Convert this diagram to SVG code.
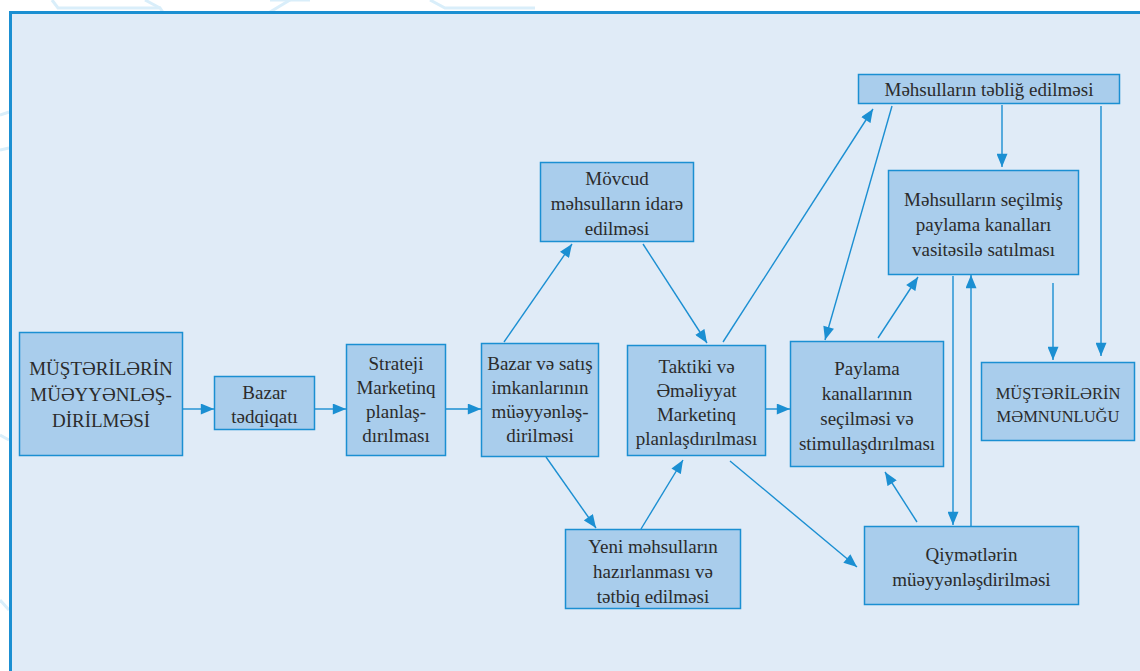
<svg xmlns="http://www.w3.org/2000/svg" width="1140" height="671" viewBox="0 0 1140 671">
  <defs>
    <style>
      .box { fill: #a9cdec; stroke: #1b8fd2; stroke-width: 1.5; }
      .conn line { stroke: #1b8fd2; stroke-width: 1.4; fill: none; }
      .deco { fill: none; stroke: #d9eefa; stroke-width: 3; }
    </style>
    <marker id="arr" viewBox="0 0 12 10" refX="12" refY="5" markerWidth="14" markerHeight="11" markerUnits="userSpaceOnUse" orient="auto">
      <path d="M0,0 L12,5 L0,10 Z" fill="#1b8fd2"/>
    </marker>
  </defs>

  <!-- page background with faint hexagon ornament -->
  <rect x="0" y="0" width="1140" height="671" fill="#ffffff"/>
  <g class="deco">
    <polyline points="52,0 58,8 160,8 175,30"/>
    <polyline points="145,0 160,8"/>
    <polyline points="270,0 310,0"/>
    <polyline points="0,115 9,112"/>
    <polyline points="0,150 9,148"/>
    <polyline points="0,435 9,440"/>
    <polyline points="0,600 9,610"/>
    <polyline points="430,0 445,8 535,8"/>
    <polyline points="270,12 290,0"/>
  </g>

  <!-- framed panel -->
  <rect x="10.5" y="12.5" width="1140" height="670" fill="#e0ebf7" stroke="#1b8fd2" stroke-width="3"/>

  <!-- connectors -->
  <g id="connectors" class="conn">
    <line x1="183" y1="409" x2="214" y2="409" marker-end="url(#arr)"/>
    <line x1="315" y1="409" x2="346" y2="409" marker-end="url(#arr)"/>
    <line x1="446" y1="409" x2="481" y2="409" marker-end="url(#arr)"/>
    <line x1="766" y1="409" x2="790" y2="409" marker-end="url(#arr)"/>
    <line x1="504" y1="342" x2="572" y2="244" marker-end="url(#arr)"/>
    <line x1="643" y1="244" x2="707" y2="343" marker-end="url(#arr)"/>
    <line x1="723" y1="342" x2="873" y2="109" marker-end="url(#arr)"/>
    <line x1="892" y1="106" x2="825" y2="340" marker-end="url(#arr)"/>
    <line x1="878" y1="338" x2="918" y2="277" marker-end="url(#arr)"/>
    <line x1="1002" y1="105" x2="1002" y2="167" marker-end="url(#arr)"/>
    <line x1="1101" y1="106" x2="1101" y2="356" marker-end="url(#arr)"/>
    <line x1="1053" y1="283" x2="1053" y2="360" marker-end="url(#arr)"/>
    <line x1="953" y1="276" x2="953" y2="525" marker-end="url(#arr)"/>
    <line x1="971" y1="526" x2="971" y2="275" marker-end="url(#arr)"/>
    <line x1="917" y1="522" x2="885" y2="472" marker-end="url(#arr)"/>
    <line x1="730" y1="461" x2="857" y2="567" marker-end="url(#arr)"/>
    <line x1="546" y1="457" x2="596" y2="528" marker-end="url(#arr)"/>
    <line x1="641" y1="529" x2="683" y2="460" marker-end="url(#arr)"/>
  </g>

  <g id="nodes" font-family="'Liberation Serif', 'DejaVu Serif', serif" font-size="19" fill="#2b2b2b" text-anchor="middle">
    <g id="n-musteri">
      <rect class="box" x="19.5" y="332.5" width="163" height="123" stroke-width="3"/>
      <g font-size="19">
        <text x="101" y="375">MÜŞTƏRİLƏRİN</text>
        <text x="101" y="401">MÜƏYYƏNLƏŞ-</text>
        <text x="101" y="427">DİRİLMƏSİ</text>
      </g>
    </g>

    <g id="n-bazar">
      <rect class="box" x="214.5" y="376.5" width="100" height="53"/>
      <text x="264.5" y="399">Bazar</text>
      <text x="264.5" y="423">tədqiqatı</text>
    </g>

    <g id="n-strateji">
      <rect class="box" x="346.5" y="344.5" width="99" height="111"/>
      <text x="396" y="370">Strateji</text>
      <text x="396" y="394">Marketinq</text>
      <text x="396" y="418">planlaş-</text>
      <text x="396" y="442">dırılması</text>
    </g>

    <g id="n-imkan">
      <rect class="box" x="481.5" y="343.5" width="117" height="113"/>
      <text x="540" y="370">Bazar və satış</text>
      <text x="540" y="394">imkanlarının</text>
      <text x="540" y="418">müəyyənləş-</text>
      <text x="540" y="442">dirilməsi</text>
    </g>

    <g id="n-movcud">
      <rect class="box" x="540.5" y="162.5" width="153" height="79"/>
      <text x="617" y="185">Mövcud</text>
      <text x="617" y="210">məhsulların idarə</text>
      <text x="617" y="235">edilməsi</text>
    </g>

    <g id="n-taktiki">
      <rect class="box" x="627.5" y="345.5" width="138" height="110"/>
      <text x="696.5" y="373">Taktiki və</text>
      <text x="696.5" y="397">Əməliyyat</text>
      <text x="696.5" y="421">Marketinq</text>
      <text x="696.5" y="445">planlaşdırılması</text>
    </g>

    <g id="n-yeni">
      <rect class="box" x="565.5" y="529.5" width="175" height="79"/>
      <text x="653" y="553">Yeni məhsulların</text>
      <text x="653" y="578">hazırlanması və</text>
      <text x="653" y="603">tətbiq edilməsi</text>
    </g>

    <g id="n-paylama">
      <rect class="box" x="790.5" y="341.5" width="153" height="125"/>
      <text x="867" y="375">Paylama</text>
      <text x="867" y="400">kanallarının</text>
      <text x="867" y="425">seçilməsi və</text>
      <text x="867" y="450">stimullaşdırılması</text>
    </g>

    <g id="n-teblig">
      <rect class="box" x="858.5" y="74.5" width="261" height="29"/>
      <text x="989" y="96">Məhsulların təbliğ edilməsi</text>
    </g>

    <g id="n-satis">
      <rect class="box" x="888.5" y="170.5" width="190" height="104"/>
      <text x="983.5" y="206">Məhsulların seçilmiş</text>
      <text x="983.5" y="231">paylama kanalları</text>
      <text x="983.5" y="256">vasitəsilə satılması</text>
    </g>

    <g id="n-memnun">
      <rect class="box" x="981.5" y="362.5" width="153" height="78"/>
      <g font-size="16.5">
        <text x="1058" y="399">MÜŞTƏRİLƏRİN</text>
        <text x="1058" y="422">MƏMNUNLUĞU</text>
      </g>
    </g>

    <g id="n-qiymet">
      <rect class="box" x="864.5" y="526.5" width="214" height="78"/>
      <text x="971.5" y="561">Qiymətlərin</text>
      <text x="971.5" y="586">müəyyənləşdirilməsi</text>
    </g>
  </g>
</svg>
